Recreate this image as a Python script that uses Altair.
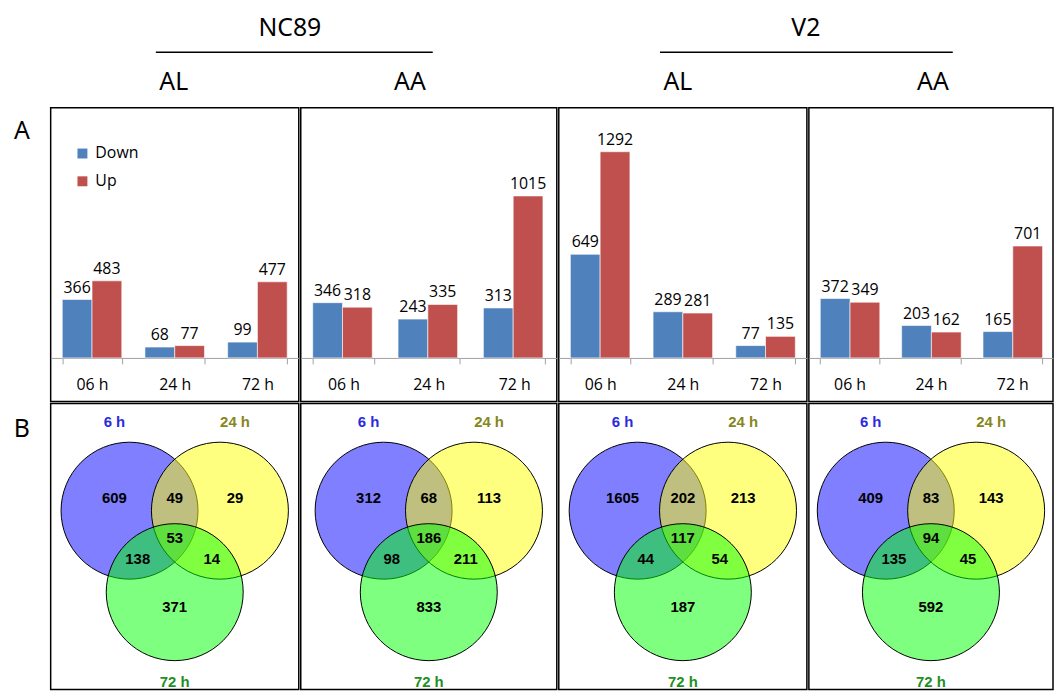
import altair as alt
import pandas as pd

# ---------------- data ----------------
TIMES = ["06 h", "24 h", "72 h"]
SERIES = ["Down", "Up"]
SERIES_COLORS = ["#4F81BD", "#C0504D"]
PANELS = ["NC89 AL", "NC89 AA", "V2 AL", "V2 AA"]

DOWN_NC89_AL = [366, 68, 99]
UP_NC89_AL = [483, 77, 477]
DOWN_NC89_AA = [346, 243, 313]
UP_NC89_AA = [318, 335, 1015]
DOWN_V2_AL = [649, 289, 77]
UP_V2_AL = [1292, 281, 135]
DOWN_V2_AA = [372, 203, 165]
UP_V2_AA = [349, 162, 701]
DOWN = {"NC89 AL": DOWN_NC89_AL, "NC89 AA": DOWN_NC89_AA, "V2 AL": DOWN_V2_AL, "V2 AA": DOWN_V2_AA}
UP = {"NC89 AL": UP_NC89_AL, "NC89 AA": UP_NC89_AA, "V2 AL": UP_V2_AL, "V2 AA": UP_V2_AA}

VENN_SETS = ["6 h", "24 h", "72 h"]
VENN_REGIONS = ["6 h only", "6 h & 24 h", "24 h only", "all three",
                "6 h & 72 h", "24 h & 72 h", "72 h only"]
VENN_NC89_AL = [609, 49, 29, 53, 138, 14, 371]
VENN_NC89_AA = [312, 68, 113, 186, 98, 211, 833]
VENN_V2_AL = [1605, 202, 213, 117, 44, 54, 187]
VENN_V2_AA = [409, 83, 143, 94, 135, 45, 592]
VENN = {"NC89 AL": VENN_NC89_AL, "NC89 AA": VENN_NC89_AA, "V2 AL": VENN_V2_AL, "V2 AA": VENN_V2_AA}

ROW_LETTERS = ["A", "B"]
GENOTYPES = ["NC89", "V2"]
TREATMENTS = ["AL", "AA", "AL", "AA"]

# ---------------- layout / style ----------------
PANEL_W = [250, 258, 250, 246]
LEFT_W = 42
HEADER_H = 97
BAR_H = 296
VENN_H = 288
FONT = "Open Sans"

# bar y scale (shared by all panels)
Y_LO, Y_HI = -274, 1567
AXIS_OFFSET = -44

# Venn geometry in circle-radius units
R_PX = 69
CIRCLE_SIZE = (2 * R_PX) ** 2
CIRCLE_X = [-0.66, 0.66, 0.0]
CIRCLE_Y = [0.40, 0.40, -0.79]
REGION_X = [-0.88, 0.0, 0.88, 0.0, -0.54, 0.54, 0.0]
REGION_Y = [0.58, 0.58, 0.58, 0.0, -0.31, -0.31, -1.01]
SETLABEL_X = [-0.88, 0.88, 0.0]
SETLABEL_Y = [1.70, 1.70, -2.10]
VENN_FILL = ["#0000ff", "#ffff00", "#00ff00"]
VENN_TEXT = ["#2a2ae0", "#86861c", "#1f8f1f"]
V_TOP = 135.5 / R_PX
V_BOT = -(VENN_H - 135.5) / R_PX

PANEL_VIEW = alt.ViewBackground(stroke="black", strokeWidth=1.5)


def bar_panel(i, name, w):
    df = pd.DataFrame({
        "time": TIMES * 2,
        "series": ["Down"] * 3 + ["Up"] * 3,
        "value": DOWN[name] + UP[name],
    })
    x = alt.X("time:N", sort=TIMES,
              scale=alt.Scale(paddingInner=0.28, paddingOuter=0.14),
              axis=alt.Axis(title=None, labelAngle=0, labelFontSize=16, labelFont=FONT,
                            labelColor="black", domainColor="#a0a0a0", tickColor="#a0a0a0",
                            tickSize=6, tickBand="extent", offset=AXIS_OFFSET,
                            labelPadding=13, grid=False))
    xo = alt.XOffset("series:N", sort=SERIES)
    y = alt.Y("value:Q", scale=alt.Scale(domain=[Y_LO, Y_HI], nice=False, zero=False), axis=None)
    if i == 0:
        legend = alt.Legend(orient="none", legendX=24, legendY=38, title=None,
                            symbolType="square", symbolSize=100, symbolStrokeWidth=0,
                            labelFontSize=16, labelFont=FONT, labelColor="black",
                            rowPadding=12, labelOffset=5, padding=0)
    else:
        legend = None
    base = alt.Chart(df)
    bars = base.mark_bar(stroke="white", strokeWidth=0.6).encode(
        x=x, xOffset=xo, y=y, y2=alt.datum(0),
        color=alt.Color("series:N", scale=alt.Scale(domain=SERIES, range=SERIES_COLORS), legend=legend),
    )
    labels = base.mark_text(baseline="bottom", dy=-4, fontSize=16, font=FONT, color="black").encode(
        x=x, xOffset=xo, y=y, text="value:Q")
    return alt.layer(bars, labels).properties(width=w, height=BAR_H, view=PANEL_VIEW)


def venn_panel(name, w):
    half = w / 2 / R_PX
    xs = alt.Scale(domain=[-half, half], nice=False, zero=False)
    ys = alt.Scale(domain=[V_BOT, V_TOP], nice=False, zero=False)
    cdf = pd.DataFrame({"set": VENN_SETS, "cx": CIRCLE_X, "cy": CIRCLE_Y})
    rdf = pd.DataFrame({"region": VENN_REGIONS, "count": VENN[name], "rx": REGION_X, "ry": REGION_Y})
    sdf = pd.DataFrame({"set": VENN_SETS, "sx": SETLABEL_X, "sy": SETLABEL_Y})
    circles = alt.Chart(cdf).mark_circle(size=CIRCLE_SIZE, opacity=1, fillOpacity=0.5,
                                         stroke="black", strokeWidth=1, strokeOpacity=1).encode(
        x=alt.X("cx:Q", scale=xs, axis=None),
        y=alt.Y("cy:Q", scale=ys, axis=None),
        fill=alt.Fill("set:N", scale=alt.Scale(domain=VENN_SETS, range=VENN_FILL), legend=None),
    )
    counts = alt.Chart(rdf).mark_text(fontSize=15, fontWeight="bold", font="Liberation Sans",
                                      color="black").encode(
        x=alt.X("rx:Q", scale=xs, axis=None),
        y=alt.Y("ry:Q", scale=ys, axis=None),
        text="count:Q",
    )
    setlabels = alt.Chart(sdf).mark_text(fontSize=15, fontWeight="bold", font="Liberation Sans").encode(
        x=alt.X("sx:Q", scale=xs, axis=None),
        y=alt.Y("sy:Q", scale=ys, axis=None),
        text="set:N",
        color=alt.Color("set:N", scale=alt.Scale(domain=VENN_SETS, range=VENN_TEXT), legend=None),
    )
    return alt.layer(circles, counts, setlabels).properties(width=w, height=VENN_H, view=PANEL_VIEW)


def letter_chart(letter, h, ypos):
    return alt.Chart(pd.DataFrame({"t": [letter]})).mark_text(
        fontSize=25, font="Noto Sans", color="black").encode(
        text="t:N", x=alt.value(14), y=alt.value(ypos)
    ).properties(width=LEFT_W, height=h)


# header annotations
header_layers = []
for g, xc, x1, x2 in zip(GENOTYPES, [284, 804], [149, 657], [428, 952]):
    header_layers.append(
        alt.Chart(pd.DataFrame({"t": [g]})).mark_text(fontSize=25, font="Noto Sans", color="black")
        .encode(text="t:N", x=alt.value(xc), y=alt.value(18)))
    header_layers.append(
        alt.Chart(pd.DataFrame({"t": [g]})).mark_rule(color="black", strokeWidth=1.5)
        .encode(x=alt.value(x1), x2=alt.value(x2), y=alt.value(42)))
for t, xc in zip(TREATMENTS, [167, 405, 675, 932]):
    header_layers.append(
        alt.Chart(pd.DataFrame({"t": [t]})).mark_text(fontSize=25, font="Noto Sans", color="black")
        .encode(text="t:N", x=alt.value(xc), y=alt.value(72)))
header = alt.layer(*header_layers).properties(width=LEFT_W + sum(PANEL_W), height=HEADER_H)

bar_row = alt.hconcat(
    letter_chart(ROW_LETTERS[0], BAR_H, 23),
    *[bar_panel(i, p, w) for i, (p, w) in enumerate(zip(PANELS, PANEL_W))],
    spacing=0,
).resolve_scale(color="independent")

venn_row = alt.hconcat(
    letter_chart(ROW_LETTERS[1], VENN_H, 26),
    *[venn_panel(p, w) for p, w in zip(PANELS, PANEL_W)],
    spacing=0,
)

chart = alt.vconcat(header, bar_row, venn_row, spacing=0).resolve_scale(
    color="independent"
).properties(padding=0).configure_view(strokeWidth=0)

chart.save("out.html", embed_options={"renderer": "svg", "actions": False})
